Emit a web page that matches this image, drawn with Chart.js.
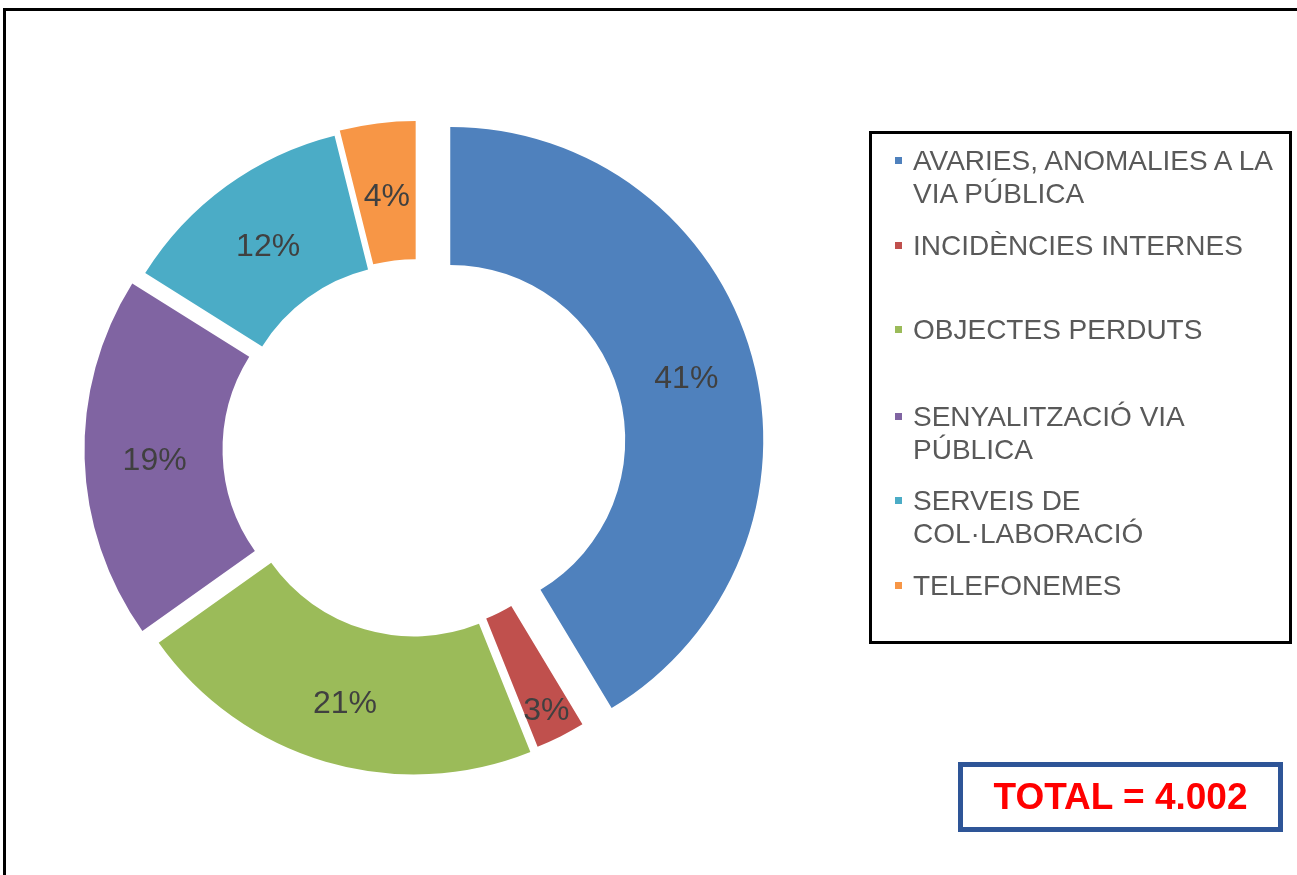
<!DOCTYPE html>
<html>
<head>
<meta charset="utf-8">
<script src="https://cdn.jsdelivr.net/npm/chart.js@4/dist/chart.umd.min.js"></script>
<style>
  body { margin: 0; background: #fff; font-family: 'Liberation Sans', Arial, sans-serif; }
  #wrap { position: relative; width: 1297px; height: 875px; overflow: hidden; }
  #chartBox { position: absolute; left: 0; top: 0; width: 1297px; height: 875px; }
  .frame { position: absolute; left: 3px; top: 8px; width: 1400px; height: 1000px; border: 3px solid #000; }
  .legend { position: absolute; left: 869px; top: 131px; width: 423px; height: 513px; border: 3px solid #000; box-sizing: border-box; }
  .item { position: absolute; left: 913px; width: 374px; font-size: 28px; line-height: 33px; color: #595959; }
  .item .mark { position: absolute; left: -18px; top: 13px; width: 7px; height: 7px; }
  .total { position: absolute; left: 958px; top: 762px; width: 325px; height: 70px; border: 5px solid #2E5597; box-sizing: border-box;
    display: flex; align-items: center; justify-content: center; color: #ff0000; font-weight: bold; font-size: 37px; }
</style>
</head>
<body>
<div id="wrap">
  <div id="chartBox"><canvas id="donutChart"></canvas></div>
  <div class="frame"></div>
  <div class="legend"></div>
  <div id="legendItems"></div>
  <div class="total" id="totalBox"></div>
</div>
<script>
// categories and counts
const categories = [
  'AVARIES, ANOMALIES A LA VIA PÚBLICA',
  'INCIDÈNCIES INTERNES',
  'OBJECTES PERDUTS',
  'SENYALITZACIÓ VIA PÚBLICA',
  'SERVEIS DE COL·LABORACIÓ',
  'TELEFONEMES'
];
const counts = [1656, 102, 850, 750, 488, 156];

// styling
const colors = ['#4F81BD', '#C0504D', '#9BBB59', '#8064A2', '#4BACC6', '#F79646'];
const explodeBy = [34, 8, 13, 20, 12, 15];
const labelShift = [0, 35, 4, 0, 0, 0];
const legendTops = [144, 229, 313, 400, 484, 569];

const total = counts.reduce((a, b) => a + b, 0);
const formatThousands = (n) => String(n).replace(/\B(?=(\d{3})+(?!\d))/g, '.');
document.getElementById('totalBox').textContent = 'TOTAL = ' + formatThousands(total);

const legendEl = document.getElementById('legendItems');
categories.forEach((name, i) => {
  const div = document.createElement('div');
  div.className = 'item';
  div.style.top = legendTops[i] + 'px';
  div.innerHTML = '<span class="mark" style="background:' + colors[i] + '"></span>' + name;
  legendEl.appendChild(div);
});

// draws each slice pulled out along its bisector
const explodePlugin = {
  id: 'explode',
  beforeDatasetDraw(chart, args) {
    const ctx = chart.ctx;
    args.meta.data.forEach((arc, i) => {
      const mid = (arc.startAngle + arc.endAngle) / 2;
      ctx.save();
      ctx.translate(Math.cos(mid) * explodeBy[i], Math.sin(mid) * explodeBy[i]);
      arc.draw(ctx);
      ctx.restore();
    });
    return false;
  }
};

const percentLabels = {
  id: 'percentLabels',
  afterDatasetsDraw(chart) {
    const ctx = chart.ctx;
    const meta = chart.getDatasetMeta(0);
    ctx.save();
    ctx.font = '32px "Liberation Sans", Arial, sans-serif';
    ctx.fillStyle = '#404040';
    ctx.textAlign = 'center';
    ctx.textBaseline = 'middle';
    meta.data.forEach((arc, i) => {
      const pos = arc.tooltipPosition();
      const mid = (arc.startAngle + arc.endAngle) / 2;
      const push = explodeBy[i] + labelShift[i];
      const pct = Math.round(counts[i] / total * 100) + '%';
      ctx.fillText(pct, pos.x + Math.cos(mid) * push + 1, pos.y + Math.sin(mid) * push + 5);
    });
    ctx.restore();
  }
};

new Chart(document.getElementById('donutChart'), {
  type: 'doughnut',
  data: {
    labels: categories,
    datasets: [{
      data: counts,
      backgroundColor: colors,
      borderWidth: 0,
      clip: false
    }]
  },
  options: {
    responsive: true,
    maintainAspectRatio: false,
    animation: false,
    cutout: '55.9%',
    layout: { padding: { left: 104.5, top: 136, right: 566.5, bottom: 113 } },
    plugins: {
      legend: { display: false },
      tooltip: { enabled: false }
    },
    events: []
  },
  plugins: [explodePlugin, percentLabels]
});
</script>
</body>
</html>
